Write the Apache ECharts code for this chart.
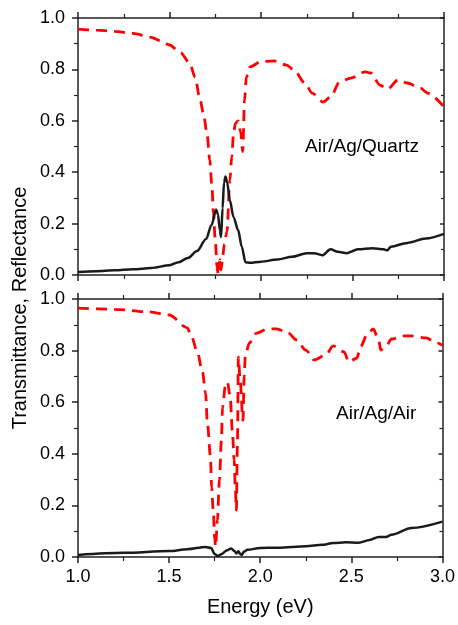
<!DOCTYPE html>
<html>
<head>
<meta charset="utf-8">
<script src="https://cdn.jsdelivr.net/npm/echarts@6/dist/echarts.min.js"></script>
<style>html,body{margin:0;padding:0;background:#fff}#c{width:458px;height:625px}</style>
</head>
<body>
<div id="c"></div>
<script>
// Energy (eV) and values for Air/Ag/Quartz (top)
const topT_E = [1.00,1.10,1.20,1.30,1.40,1.50,1.55,1.60,1.65,1.70,1.73,1.755,1.765,1.775,1.782,1.79,1.798,1.806,1.815,1.83,1.85,1.875,1.895,1.915,1.94,2.00,2.09,2.17,2.25,2.29,2.335,2.38,2.42,2.47,2.53,2.61,2.67,2.69,2.71,2.80,2.90,3.00];
const topT_V = [0.012,0.015,0.018,0.022,0.027,0.038,0.05,0.066,0.093,0.14,0.195,0.255,0.235,0.175,0.148,0.26,0.36,0.383,0.36,0.29,0.225,0.175,0.11,0.05,0.048,0.052,0.06,0.071,0.085,0.085,0.077,0.1,0.09,0.085,0.1,0.104,0.1,0.096,0.11,0.125,0.142,0.16];
const topR_E = [1.00,1.10,1.20,1.30,1.40,1.45,1.50,1.56,1.61,1.64,1.665,1.685,1.705,1.72,1.732,1.74,1.75,1.76,1.766,1.775,1.782,1.79,1.80,1.814,1.83,1.84,1.85,1.86,1.875,1.888,1.90,1.91,1.92,1.94,2.00,2.07,2.14,2.18,2.24,2.28,2.34,2.38,2.43,2.49,2.57,2.60,2.65,2.69,2.75,2.80,2.87,2.91,3.00];
const topR_V = [0.957,0.953,0.948,0.94,0.925,0.912,0.895,0.865,0.825,0.77,0.69,0.63,0.55,0.447,0.343,0.24,0.136,0.03,0.0,0.06,0.02,0.07,0.12,0.17,0.37,0.46,0.55,0.59,0.6,0.56,0.48,0.68,0.77,0.81,0.83,0.833,0.817,0.798,0.747,0.708,0.673,0.693,0.751,0.766,0.79,0.786,0.739,0.723,0.759,0.747,0.727,0.708,0.654];
// Air/Ag/Air (bottom)
const botT_E = [1.00,1.25,1.50,1.60,1.70,1.73,1.75,1.765,1.79,1.815,1.84,1.86,1.869,1.88,1.89,1.898,1.91,1.93,2.00,2.10,2.25,2.34,2.40,2.47,2.54,2.60,2.65,2.69,2.72,2.83,3.00];
const botT_V = [0.008,0.016,0.023,0.03,0.039,0.035,0.012,0.004,0.012,0.025,0.033,0.022,0.014,0.022,0.012,0.008,0.02,0.028,0.035,0.036,0.042,0.047,0.054,0.057,0.055,0.066,0.078,0.078,0.086,0.112,0.137];
const botR_E = [1.00,1.20,1.39,1.50,1.60,1.62,1.655,1.683,1.70,1.71,1.727,1.733,1.743,1.75,1.755,1.765,1.776,1.787,1.793,1.808,1.82,1.835,1.847,1.857,1.863,1.869,1.875,1.88,1.89,1.905,1.912,1.918,1.94,1.98,2.04,2.09,2.15,2.20,2.25,2.295,2.36,2.40,2.46,2.486,2.53,2.55,2.585,2.62,2.65,2.661,2.694,2.72,2.79,2.83,2.91,2.96,3.00];
const botR_V = [0.965,0.96,0.95,0.938,0.888,0.86,0.795,0.717,0.636,0.52,0.388,0.271,0.17,0.07,0.04,0.143,0.3,0.453,0.58,0.66,0.678,0.62,0.49,0.376,0.27,0.182,0.45,0.775,0.68,0.53,0.7,0.78,0.83,0.868,0.884,0.884,0.87,0.841,0.802,0.764,0.783,0.818,0.795,0.756,0.771,0.814,0.86,0.884,0.841,0.802,0.822,0.845,0.857,0.857,0.849,0.833,0.82];

const xTicks = ['1.0','1.5','2.0','2.5','3.0'];
const yTicks = ['0.0','0.2','0.4','0.6','0.8','1.0'];
const labels = ['Air/Ag/Quartz','Air/Ag/Air'];

const zip = (a,b) => a.map((v,i)=>[v,b[i]]);
const FONT = '"Liberation Sans", Arial, sans-serif';
const AX = '#222';

function xAx(grid, pos, showLabel) {
  return {
    type:'value', gridIndex:grid, position:pos, min:1, max:3, interval:0.5,
    axisLine:{onZero:false, lineStyle:{color:AX, width:1.5}},
    axisTick:{show:true, inside:false, length:6, lineStyle:{color:AX, width:1.5}},
    minorTick:{show:true, splitNumber:2, length:4, lineStyle:{color:AX, width:1.2}},
    splitLine:{show:false},
    axisLabel:{show:showLabel, margin:11, color:'#000', fontSize:18, fontFamily:FONT,
      formatter:v=>xTicks[Math.round((v-1)/0.5)] || ''},
  };
}
function yAx(grid, pos, showLabel) {
  return {
    type:'value', gridIndex:grid, position:pos, min:0, max:1, interval:0.2,
    axisLine:{onZero:false, lineStyle:{color:AX, width:1.5}},
    axisTick:{show:true, inside:pos==='right', length:showLabel?6:4, lineStyle:{color:AX, width:1.5}},
    minorTick:{show:true, splitNumber:2, length:showLabel?4:3, lineStyle:{color:AX, width:1.2}},
    splitLine:{show:false},
    axisLabel:{show:showLabel, margin:13, color:'#000', fontSize:18, fontFamily:FONT,
      formatter:v=>yTicks[Math.round(v/0.2)] || ''},
  };
}

const xAxis = [xAx(0,'bottom',false), xAx(0,'top',false), xAx(1,'bottom',true), xAx(1,'top',false)];
xAxis[2].name = 'Energy (eV)';
xAxis[2].nameLocation = 'middle';
xAxis[2].nameGap = 40;
xAxis[2].nameTextStyle = {fontSize:20, fontFamily:FONT, color:'#000'};
const yAxis = [yAx(0,'left',true), yAx(0,'right',false), yAx(1,'left',true), yAx(1,'right',false)];

function line(data, xi, yi, dashed) {
  return {
    type:'line', xAxisIndex:xi, yAxisIndex:yi, data:data, showSymbol:false, symbol:'none',
    smooth:0.3, smoothMonotone:'x', silent:true, animation:false,
    lineStyle: dashed ? {color:'#ff0000', width:2.8, type:[11,7]} : {color:'#1a1a1a', width:2.5},
  };
}

const chart = echarts.init(document.getElementById('c'), null, {renderer:'canvas'});
chart.setOption({
  animation:false,
  grid:[
    {left:78, top:18, width:366, height:257, containLabel:false},
    {left:78, top:299, width:366, height:258, containLabel:false},
  ],
  xAxis:xAxis,
  yAxis:yAxis,
  series:[
    line(zip(topR_E, topR_V), 0, 0, true),
    line(zip(topT_E, topT_V), 0, 0, false),
    line(zip(botR_E, botR_V), 2, 2, true),
    line(zip(botT_E, botT_V), 2, 2, false),
  ],
  graphic:[
    {type:'text', left:305, top:137, style:{text:labels[0], fontSize:19, fontFamily:FONT, fill:'#000'}},
    {type:'text', left:336, top:404, style:{text:labels[1], fontSize:19, fontFamily:FONT, fill:'#000'}},
    {type:'text', x:20, y:308, rotation:Math.PI/2,
      style:{text:'Transmittance, Reflectance', fontSize:20, fontFamily:FONT, fill:'#000', align:'center', verticalAlign:'middle'}},
  ],
});
</script>
</body>
</html>
